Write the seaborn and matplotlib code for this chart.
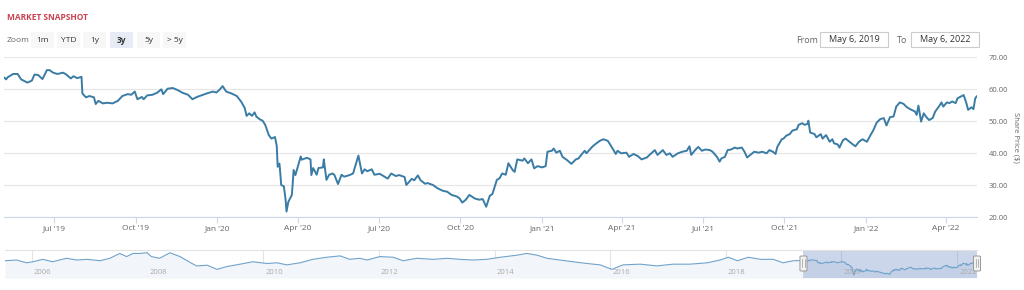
import pandas as pd
import matplotlib.pyplot as plt
import matplotlib.dates as mdates
from matplotlib.patches import FancyBboxPatch, Rectangle
from matplotlib.ticker import FormatStrFormatter
import seaborn as sns

# -------------------------------
# Data: last 3 years of share prices
recent_dates = [
    "2019-05-06", "2019-05-08", "2019-05-10", "2019-05-16", "2019-05-21", "2019-05-25",
    "2019-06-01", "2019-06-06", "2019-06-09", "2019-06-13", "2019-06-18", "2019-06-23", "2019-06-26", "2019-06-30",
    "2019-07-05", "2019-07-11", "2019-07-14", "2019-07-20", "2019-07-23", "2019-07-27",
    "2019-08-01", "2019-08-02", "2019-08-06", "2019-08-10", "2019-08-15", "2019-08-17", "2019-08-20", "2019-08-25", "2019-08-30",
    "2019-09-05", "2019-09-11", "2019-09-16", "2019-09-22", "2019-09-26", "2019-09-30",
    "2019-10-03", "2019-10-08", "2019-10-10", "2019-10-14", "2019-10-20", "2019-10-25", "2019-10-30",
    "2019-11-01", "2019-11-06", "2019-11-12", "2019-11-17", "2019-11-23", "2019-11-29",
    "2019-12-04", "2019-12-09", "2019-12-12", "2019-12-20", "2019-12-27", "2019-12-31",
    "2020-01-04", "2020-01-07", "2020-01-11", "2020-01-17", "2020-01-23", "2020-01-28",
    "2020-02-01", "2020-02-03", "2020-02-06", "2020-02-09", "2020-02-12", "2020-02-14", "2020-02-18", "2020-02-21", "2020-02-24", "2020-02-28",
    "2020-03-02", "2020-03-06", "2020-03-08", "2020-03-09", "2020-03-11", "2020-03-12", "2020-03-13", "2020-03-16",
    "2020-03-18", "2020-03-19", "2020-03-21", "2020-03-25", "2020-03-26", "2020-03-27", "2020-03-29", "2020-03-31",
    "2020-04-04", "2020-04-05", "2020-04-11", "2020-04-15", "2020-04-16", "2020-04-18", "2020-04-22", "2020-04-24", "2020-04-29", "2020-04-30",
    "2020-05-03", "2020-05-06", "2020-05-10", "2020-05-12", "2020-05-16", "2020-05-20", "2020-05-23", "2020-05-29",
    "2020-06-02", "2020-06-06", "2020-06-08", "2020-06-12", "2020-06-15", "2020-06-18", "2020-06-23", "2020-06-26",
    "2020-07-02", "2020-07-05", "2020-07-11", "2020-07-15", "2020-07-20", "2020-07-24", "2020-07-30",
    "2020-08-01", "2020-08-07", "2020-08-10", "2020-08-14", "2020-08-17", "2020-08-22", "2020-08-25", "2020-08-31",
    "2020-09-05", "2020-09-11", "2020-09-16", "2020-09-21", "2020-09-27", "2020-09-30",
    "2020-10-03", "2020-10-07", "2020-10-11", "2020-10-17", "2020-10-22", "2020-10-26", "2020-10-30",
    "2020-11-03", "2020-11-06", "2020-11-11", "2020-11-14", "2020-11-17", "2020-11-21", "2020-11-24", "2020-11-29",
    "2020-12-01", "2020-12-04", "2020-12-10", "2020-12-12", "2020-12-16", "2020-12-20", "2020-12-23", "2020-12-27",
    "2021-01-01", "2021-01-05", "2021-01-07", "2021-01-12", "2021-01-14", "2021-01-17", "2021-01-21", "2021-01-24", "2021-01-29",
    "2021-02-03", "2021-02-08", "2021-02-11", "2021-02-14", "2021-02-18", "2021-02-20", "2021-02-23", "2021-02-27",
    "2021-03-03", "2021-03-07", "2021-03-11", "2021-03-16", "2021-03-19", "2021-03-25", "2021-03-27", "2021-03-31",
    "2021-04-06", "2021-04-09", "2021-04-14", "2021-04-19", "2021-04-23", "2021-04-29",
    "2021-05-02", "2021-05-08", "2021-05-11", "2021-05-17", "2021-05-21", "2021-05-25", "2021-05-28",
    "2021-06-03", "2021-06-08", "2021-06-13", "2021-06-16", "2021-06-18", "2021-06-23", "2021-06-26", "2021-06-30",
    "2021-07-04", "2021-07-09", "2021-07-12", "2021-07-17", "2021-07-20", "2021-07-22", "2021-07-26", "2021-07-29",
    "2021-08-02", "2021-08-06", "2021-08-09", "2021-08-14", "2021-08-17", "2021-08-20", "2021-08-25", "2021-08-28",
    "2021-09-02", "2021-09-06", "2021-09-11", "2021-09-14", "2021-09-18", "2021-09-21", "2021-09-23", "2021-09-28", "2021-09-30",
    "2021-10-03", "2021-10-07", "2021-10-10", "2021-10-15", "2021-10-17", "2021-10-21", "2021-10-24", "2021-10-27", "2021-10-28", "2021-10-30",
    "2021-11-04", "2021-11-06", "2021-11-11", "2021-11-13", "2021-11-17", "2021-11-21", "2021-11-24", "2021-11-26", "2021-11-30",
    "2021-12-02", "2021-12-06", "2021-12-09", "2021-12-12", "2021-12-17", "2021-12-20", "2021-12-24", "2021-12-28",
    "2022-01-02", "2022-01-06", "2022-01-09", "2022-01-13", "2022-01-17", "2022-01-21", "2022-01-24", "2022-01-28",
    "2022-02-01", "2022-02-04", "2022-02-08", "2022-02-12", "2022-02-16", "2022-02-21", "2022-02-25", "2022-02-27",
    "2022-03-01", "2022-03-04", "2022-03-07", "2022-03-10", "2022-03-13", "2022-03-17", "2022-03-20", "2022-03-24", "2022-03-27", "2022-03-29",
    "2022-04-02", "2022-04-05", "2022-04-08", "2022-04-12", "2022-04-14", "2022-04-19", "2022-04-21", "2022-04-24", "2022-04-26", "2022-04-30",
    "2022-05-02", "2022-05-04", "2022-05-06",
]
recent_prices = [
    63.6, 63.0, 63.7, 64.7, 64.7, 63.0,
    62.0, 62.6, 64.5, 64.4, 63.1, 65.9, 65.9, 65.1,
    64.7, 65.1, 64.7, 63.3, 64.0, 63.4,
    63.8, 58.6, 57.4, 57.8, 57.4, 55.3, 56.3, 55.5, 55.7,
    55.5, 56.3, 57.8, 58.4, 58.2, 59.2,
    56.8, 57.5, 56.8, 58.0, 58.2, 58.8, 59.9,
    58.4, 60.1, 60.3, 59.7, 58.8, 58.2,
    56.8, 57.5, 57.8, 58.6, 59.2, 58.9,
    59.9, 60.9, 59.2, 58.6, 57.8, 56.0,
    54.0, 51.6, 52.4, 51.6, 52.7, 51.4, 50.5, 50.1, 48.8, 45.6,
    44.5, 45.0, 42.2, 35.7, 36.7, 33.6, 30.0, 29.6,
    25.3, 21.7, 24.7, 26.9, 30.5, 34.7, 33.1, 35.0,
    38.9, 37.9, 38.5, 38.0, 33.1, 35.3, 33.2, 35.3, 35.5, 38.0,
    31.6, 33.2, 33.6, 33.1, 30.3, 33.2, 32.6, 33.1,
    33.6, 37.3, 39.2, 33.6, 34.9, 34.3, 34.9, 33.2,
    33.5, 33.0, 32.0, 33.6, 32.8, 33.1, 32.5,
    30.0, 31.9, 31.5, 33.0, 31.5, 30.4, 30.6, 30.0,
    29.0, 28.2, 27.9, 26.9, 26.4, 25.8,
    24.5, 25.4, 26.9, 25.8, 25.4, 25.6, 23.2,
    26.6, 27.2, 31.6, 32.1, 33.6, 33.2, 36.8, 34.6,
    34.1, 38.0, 37.6, 38.3, 36.8, 38.0, 35.2, 35.9,
    35.5, 35.9, 40.4, 40.7, 41.4, 40.1, 40.7, 38.8, 37.8,
    36.6, 38.0, 38.3, 39.4, 40.7, 39.9, 40.9, 42.1,
    43.0, 43.8, 44.3, 43.8, 42.5, 39.7, 40.7, 39.9,
    40.1, 38.8, 39.7, 39.0, 38.0, 38.6,
    39.4, 40.9, 39.4, 40.9, 39.4, 39.9, 38.8,
    39.9, 40.4, 40.7, 42.1, 39.4, 41.1, 41.9, 40.7,
    41.1, 40.9, 40.4, 38.8, 37.3, 38.3, 38.8, 40.9,
    41.1, 41.7, 41.4, 41.7, 40.4, 38.6, 39.7, 40.4,
    40.1, 40.4, 39.9, 40.9, 40.4, 39.7, 41.9, 44.3, 44.5,
    45.4, 45.9, 47.0, 47.4, 48.8, 49.3, 48.8, 49.1, 50.1, 46.4,
    45.9, 44.9, 45.9, 44.5, 45.6, 43.5, 44.3, 43.0, 42.7,
    41.7, 44.0, 44.5, 43.8, 42.7, 42.1, 43.5, 44.3,
    43.5, 45.6, 47.0, 49.5, 50.6, 50.9, 48.6, 51.2,
    51.4, 54.5, 55.8, 55.4, 54.3, 53.5, 53.0, 51.9,
    54.8, 49.8, 52.4, 51.2, 50.3, 50.9, 53.0, 54.5, 55.8, 54.5,
    55.8, 55.6, 56.1, 55.6, 57.1, 57.8, 58.1, 55.6, 53.5, 54.3,
    53.7, 57.1, 57.8,
]

# Older history shown only in the navigator strip
history_dates = [
    "2005-07-15", "2005-09-27", "2005-11-28", "2006-01-08", "2006-03-10", "2006-05-12", "2006-08-07",
    "2006-10-12", "2006-12-15", "2007-03-08", "2007-05-08", "2007-07-10", "2007-08-22", "2007-10-01",
    "2007-11-14", "2007-12-28", "2008-01-26", "2008-03-17", "2008-05-22", "2008-07-24", "2008-10-08",
    "2008-11-06", "2009-01-12", "2009-03-15", "2009-05-16", "2009-08-08", "2009-10-27", "2010-01-26",
    "2010-03-29", "2010-05-30", "2010-08-22", "2010-11-10", "2011-02-06", "2011-05-01", "2011-07-02",
    "2011-09-02", "2011-10-20", "2012-01-08", "2012-04-01", "2012-06-02", "2012-08-28", "2012-12-08",
    "2013-03-08", "2013-05-27", "2013-08-18", "2013-11-14", "2014-02-06", "2014-05-22", "2014-07-24",
    "2014-09-27", "2014-11-28", "2015-02-17", "2015-05-11", "2015-08-07", "2015-10-30", "2016-01-12",
    "2016-03-22", "2016-07-09", "2016-10-23", "2017-02-02", "2017-05-19", "2017-09-06", "2017-11-25",
    "2018-01-16", "2018-03-15", "2018-05-23", "2018-08-08", "2018-10-27", "2018-12-28", "2019-03-04",
]
history_prices = [
    63, 65, 57, 60, 67, 60, 70,
    65, 67, 63, 70, 84, 75, 84,
    84, 86, 75, 70, 86, 75, 55,
    48, 50, 38, 46, 53, 60, 55,
    57, 51, 57, 67, 73, 77, 67,
    70, 65, 75, 73, 63, 70, 67,
    70, 67, 65, 67, 73, 79, 84,
    79, 70, 65, 60, 55, 51, 38,
    51, 53, 48, 53, 53, 57, 65,
    73, 63, 73, 67, 67, 57, 63,
]

zoom_buttons = ["1m", "YTD", "1y", "3y", "5y", "> 5y"]
selected_button = "3y"
range_from = "May 6, 2019"
range_to = "May 6, 2022"
y_ticks = [20, 30, 40, 50, 60, 70]
nav_years = [2006, 2008, 2010, 2012, 2014, 2016, 2018, 2020, 2022]

recent = pd.DataFrame({"date": pd.to_datetime(recent_dates), "price": recent_prices})
history = pd.DataFrame({"date": pd.to_datetime(history_dates), "price": history_prices})
full = pd.concat([history, recent], ignore_index=True)

# -------------------------------
sns.set_theme(style="white")
plt.rcParams["font.family"] = ["Open Sans", "DejaVu Sans"]

W, H = 1024, 290
fig = plt.figure(figsize=(W / 100, H / 100), dpi=100)


def fx(px):
    return px / W


def fy(py):
    return 1 - py / H


# Header and zoom buttons
fig.text(fx(7), fy(17), "MARKET SNAPSHOT", color="#c8434f", fontsize=6, fontweight="bold", va="center")
fig.text(fx(7), fy(40.5), "Zoom", color="#666666", fontsize=6, va="center")
btn_x = [31, 57, 83, 110, 137, 163]
btn_w = 23
for label, x0 in zip(zoom_buttons, btn_x):
    sel = label == selected_button
    fig.patches.append(FancyBboxPatch(
        (fx(x0), fy(48)), fx(btn_w), 16 / H, boxstyle="round,pad=0,rounding_size=0.002",
        transform=fig.transFigure, fc="#e6ebf5" if sel else "#f7f7f7", ec="none"))
    fig.text(fx(x0 + btn_w / 2), fy(40.5), label, ha="center", va="center", fontsize=6,
             color="#333333", fontweight="bold" if sel else "normal")

# Date range inputs
fig.text(fx(796), fy(40), "From", color="#666666", fontsize=6.5, va="center")
fig.text(fx(897), fy(40), "To", color="#666666", fontsize=6.5, va="center")
for x0, txt in [(820, range_from), (911, range_to)]:
    fig.patches.append(Rectangle((fx(x0), fy(47)), fx(68), 15 / H, transform=fig.transFigure,
                                 fc="white", ec="#cccccc", lw=0.8))
    fig.text(fx(x0 + 34), fy(39.5), txt, ha="center", va="center", fontsize=6.5, color="#333333")

# -------------------------------
# Main price chart
ax = fig.add_axes([fx(4.3), fy(217), fx(977 - 4.3), (217 - 57) / H])
sns.lineplot(data=recent, x="date", y="price", ax=ax, color="#3a7ca5", linewidth=1.4)
ax.set_xlim(pd.Timestamp("2019-05-06"), pd.Timestamp("2022-05-06"))
ax.set_ylim(20, 70)
ax.set_yticks(y_ticks)
ax.yaxis.tick_right()
ax.yaxis.set_major_formatter(FormatStrFormatter("%.2f"))
ax.tick_params(axis="y", length=0, pad=8.5, labelsize=5.5, labelcolor="#666666")
ax.xaxis.set_major_locator(mdates.MonthLocator(bymonth=[1, 4, 7, 10]))
ax.xaxis.set_major_formatter(mdates.DateFormatter("%b '%y"))
ax.tick_params(axis="x", bottom=True, length=4, width=0.8, color="#ccd6eb", pad=2,
               labelsize=6, labelcolor="#666666")
ax.grid(axis="y", color="#e6e6e6", linewidth=0.8)
ax.grid(axis="x", visible=False)
for s in ["top", "left", "right"]:
    ax.spines[s].set_visible(False)
ax.spines["bottom"].set_color("#ccd6eb")
ax.spines["bottom"].set_linewidth(0.8)
ax.set_xlabel("")
ax.set_ylabel("")
fig.text(fx(1016), fy(137), r"Share Price (\$)", rotation=270, ha="center", va="center",
         fontsize=5.5, color="#666666")

# -------------------------------
# Navigator strip
nav = fig.add_axes([fx(5), fy(278), fx(972), 28 / H])
nav_lo, nav_hi = 13, 94
nav.fill_between(full["date"], full["price"], nav_lo, color="#f2f5f9", lw=0)
sns.lineplot(data=full, x="date", y="price", ax=nav, color="#6fa3cc", linewidth=0.8)
nav.set_xlim(full["date"].min(), full["date"].max())
nav.set_ylim(nav_lo, nav_hi)
nav.set_xticks([pd.Timestamp(f"{y}-01-01") for y in nav_years])
nav.set_yticks([])
nav.tick_params(axis="x", length=0, labelbottom=False)
nav.grid(axis="x", color="#e3e3e3", linewidth=0.8)
for s in ["left", "right", "bottom"]:
    nav.spines[s].set_visible(False)
nav.spines["top"].set_color("#e3e3e3")
nav.spines["top"].set_linewidth(0.8)
nav.set_xlabel("")
nav.set_ylabel("")
for y in nav_years:
    nav.annotate(str(y), xy=(pd.Timestamp(f"{y}-01-01"), 0.2), xycoords=("data", "axes fraction"),
                 xytext=(1.5, 0), textcoords="offset points", ha="left", va="center",
                 fontsize=5.5, color="#aaaaaa")

sel_start, sel_end = pd.Timestamp("2019-05-06"), pd.Timestamp("2022-05-06")
nav.axvspan(sel_start, sel_end, color="#6685c2", alpha=0.33, lw=0)

# Range handles
to_fig = fig.transFigure.inverted()
for ts in [sel_start, sel_end]:
    xd = nav.transData.transform((mdates.date2num(ts), nav_lo))[0]
    xf = to_fig.transform((xd, 0))[0]
    fig.patches.append(FancyBboxPatch((xf - fx(3.5), fy(271)), fx(7), 15 / H,
                                      boxstyle="round,pad=0,rounding_size=0.002",
                                      transform=fig.transFigure, fc="#f2f2f2", ec="#999999", lw=0.7))
    for dx in (-1.2, 1.2):
        fig.lines.append(plt.Line2D([xf + fx(dx), xf + fx(dx)], [fy(267), fy(259)],
                                    transform=fig.transFigure, color="#999999", lw=0.5))

fig.savefig("out.png", dpi=100)
